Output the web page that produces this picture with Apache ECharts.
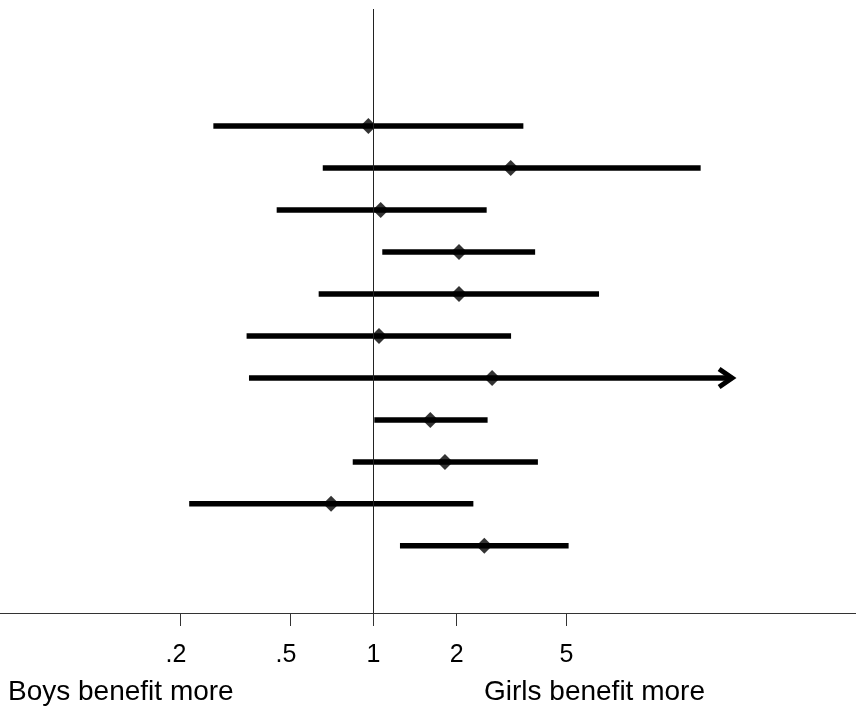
<!DOCTYPE html>
<html>
<head>
<meta charset="utf-8">
<script src="https://cdn.jsdelivr.net/npm/echarts@6/dist/echarts.min.js"></script>
<style>
html,body{margin:0;padding:0;background:#ffffff;}
#chart{width:856px;height:707px;}
</style>
</head>
<body>
<div id="chart"></div>
<script>
// ---- data (ratios, log scale) ----
const rows        = [1, 2, 3, 4, 5, 6, 7, 8, 9, 10, 11];
const estimate    = [0.958, 3.14, 1.062, 2.04, 2.04, 1.047, 2.69, 1.606, 1.815, 0.702, 2.52];
const lower       = [0.263, 0.655, 0.446, 1.076, 0.633, 0.347, 0.354, 1.007, 0.841, 0.215, 1.247];
const upper       = [3.49, 15.31, 2.57, 3.85, 6.56, 3.15, 19.9, 2.59, 3.94, 2.30, 5.09];
const clippedHigh = [false, false, false, false, false, false, true, false, false, false, false];
const tickValues  = [0.2, 0.5, 1, 2, 5];
const tickLabels  = ['.2', '.5', '1', '2', '5'];
const nullValue   = 1;
const xRange      = [0.04438, 55.93];
const leftNote    = 'Boys benefit more';
const rightNote   = 'Girls benefit more';

const L = Math.log10;
const ciData = rows.map((r, i) => [L(lower[i]), L(upper[i]), r, clippedHigh[i] ? 1 : 0]);
const estData = rows.map((r, i) => [L(estimate[i]), r]);
const tickLog = tickValues.map(L);

const chart = echarts.init(document.getElementById('chart'), null, {renderer: 'canvas'});
const FONT = '"Liberation Sans", Arial, Helvetica, sans-serif';

chart.setOption({
  animation: false,
  backgroundColor: '#ffffff',
  grid: {left: 0, right: 0, top: 9, bottom: 94, containLabel: false},
  xAxis: {
    type: 'value',
    min: L(xRange[0]),
    max: L(xRange[1]),
    splitLine: {show: false},
    axisLine: {show: true, onZero: false, lineStyle: {color: '#333333', width: 1}},
    axisTick: {show: true, length: 13, inside: false, customValues: tickLog,
               lineStyle: {color: '#333333', width: 1}},
    axisLabel: {
      show: true,
      customValues: tickLog,
      margin: 30,
      fontSize: 25,
      fontFamily: FONT,
      color: '#000000',
      formatter: function (v) {
        for (let i = 0; i < tickLog.length; i++) {
          if (Math.abs(tickLog[i] - v) < 1e-6) {
            const t = tickLabels[i];
            return t.charAt(0) === '.' ? '{d|' + t + '}' : t;
          }
        }
        return '';
      },
      rich: {
        d: {fontSize: 25, fontFamily: FONT, color: '#000000', padding: [0, 9, 0, 0]}
      }
    }
  },
  yAxis: {
    type: 'value',
    inverse: true,
    min: -1.79,
    max: 12.6,
    show: false
  },
  series: [
    {
      type: 'custom',
      data: ciData,
      z: 2,
      encode: {x: [0, 1], y: 2},
      renderItem: function (params, api) {
        const y = api.value(2);
        const p1 = api.coord([api.value(0), y]);
        const p2 = api.coord([api.value(1), y]);
        const children = [{
          type: 'line',
          shape: {x1: p1[0], y1: p1[1], x2: p2[0], y2: p2[1]},
          style: {stroke: '#000000', lineWidth: 5.5, lineCap: 'butt'}
        }];
        if (api.value(3)) {
          children.push({
            type: 'polyline',
            shape: {points: [[p2[0] - 13, p2[1] - 9], [p2[0], p2[1]], [p2[0] - 13, p2[1] + 9]]},
            style: {stroke: '#000000', lineWidth: 5, fill: null, lineJoin: 'miter', lineCap: 'butt'}
          });
        }
        return {type: 'group', children: children};
      },
      markLine: {
        silent: true,
        symbol: ['none', 'none'],
        label: {show: false},
        lineStyle: {color: '#222222', width: 1, type: 'solid'},
        data: [{xAxis: L(nullValue)}]
      }
    },
    {
      type: 'scatter',
      data: estData,
      z: 3,
      symbol: 'diamond',
      symbolSize: 16,
      itemStyle: {color: '#000000'}
    }
  ],
  graphic: [
    {type: 'text', left: 8, top: 678,
     style: {text: leftNote, font: '28px ' + FONT, fill: '#000000'}},
    {type: 'text', left: 484, top: 678,
     style: {text: rightNote, font: '28px ' + FONT, fill: '#000000'}}
  ]
});
</script>
</body>
</html>
